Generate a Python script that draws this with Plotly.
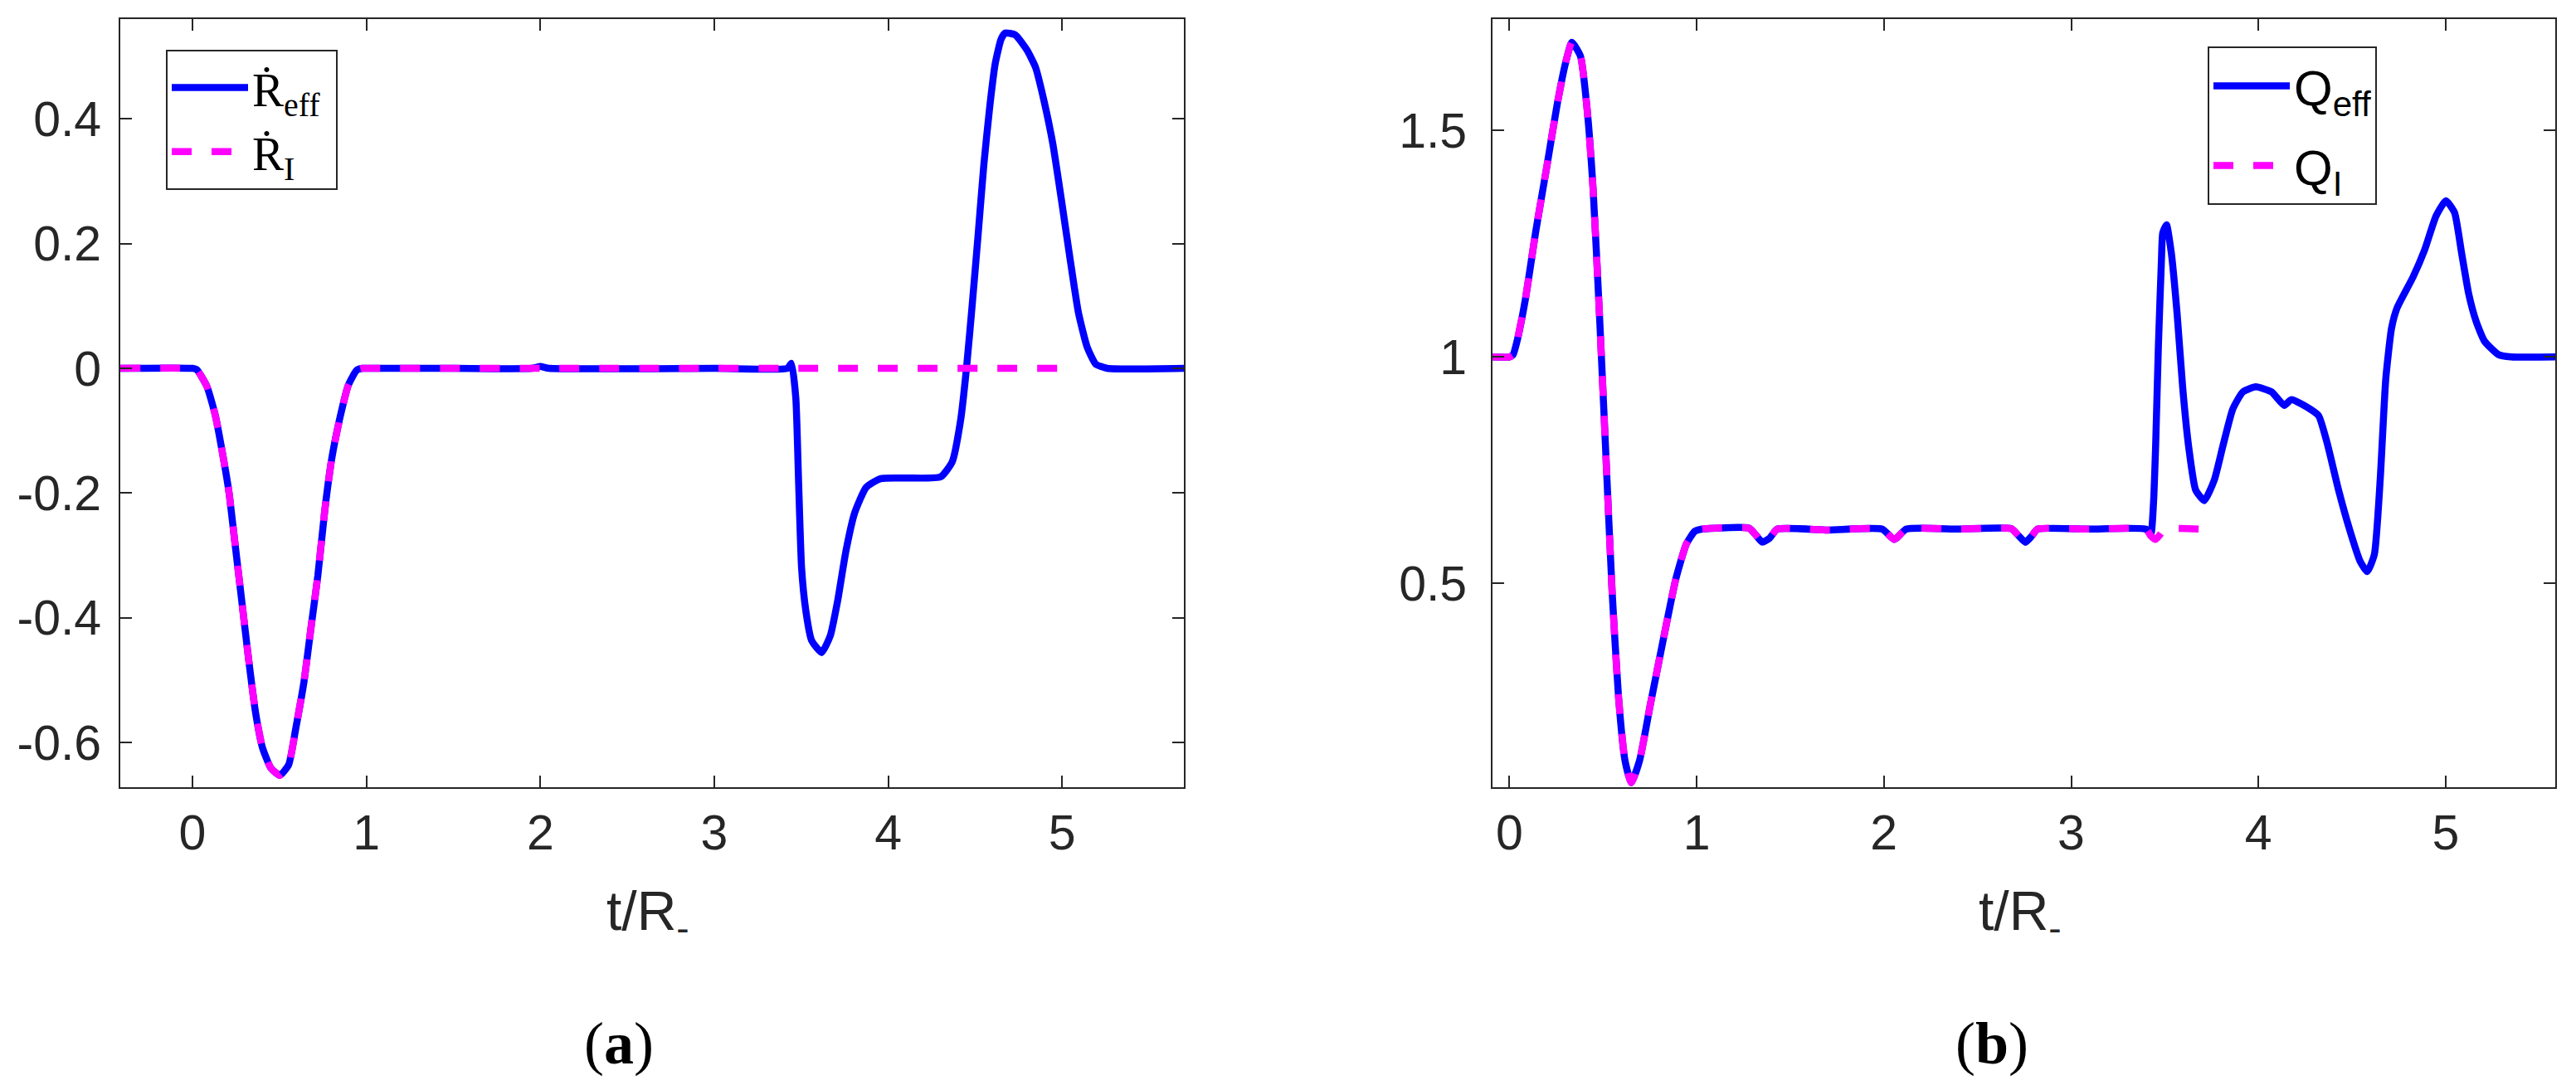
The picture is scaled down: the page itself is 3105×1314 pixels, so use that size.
import plotly.graph_objects as go

# ---------------- data ----------------
# panel (a): dR/dt
t_reff = [-0.415, 0.0, 0.025, 0.083, 0.131, 0.170, 0.210, 0.242, 0.282, 0.322, 0.362,
          0.402, 0.450, 0.502, 0.553, 0.593, 0.641, 0.681, 0.721, 0.761, 0.800, 0.848,
          0.896, 0.944, 0.976, 1.0, 1.5, 1.95, 2.0, 2.05, 3.0, 3.42, 3.444, 3.469,
          3.485, 3.502, 3.526, 3.559, 3.617, 3.667, 3.708, 3.757, 3.807, 3.873, 3.955,
          4.104, 4.302, 4.368, 4.417, 4.450, 4.483, 4.516, 4.550, 4.582, 4.616, 4.649,
          4.673, 4.731, 4.797, 4.847, 4.896, 4.946, 4.995, 5.045, 5.094, 5.144, 5.193,
          5.259, 5.70]
v_reff = [0.0, 0.0, -0.002, -0.029, -0.075, -0.132, -0.199, -0.275, -0.370, -0.465, -0.551,
          -0.608, -0.641, -0.653, -0.636, -0.579, -0.503, -0.417, -0.332, -0.227, -0.146, -0.079,
          -0.027, -0.003, 0.0, 0.0, 0.0, 0.0, 0.003, 0.0, 0.0, 0.0, 0.008, -0.048,
          -0.184, -0.320, -0.388, -0.436, -0.456, -0.429, -0.375, -0.293, -0.232, -0.191, -0.177,
          -0.176, -0.174, -0.150, -0.082, 0.0, 0.102, 0.211, 0.327, 0.415, 0.490, 0.528,
          0.538, 0.535, 0.511, 0.483, 0.429, 0.361, 0.272, 0.177, 0.089, 0.034, 0.007,
          0.0, 0.0]

t_ri = [-0.415, 0.0, 0.025, 0.083, 0.131, 0.170, 0.210, 0.242, 0.282, 0.322, 0.362,
        0.402, 0.450, 0.502, 0.553, 0.593, 0.641, 0.681, 0.721, 0.761, 0.800, 0.848,
        0.896, 0.944, 0.976, 1.0, 1.5, 2.0, 3.0, 3.42, 4.99]
v_ri = [0.0, 0.0, -0.002, -0.029, -0.075, -0.132, -0.199, -0.275, -0.370, -0.465, -0.551,
        -0.608, -0.641, -0.653, -0.636, -0.579, -0.503, -0.417, -0.332, -0.227, -0.146, -0.079,
        -0.027, -0.003, 0.0, 0.0, 0.0, 0.0, 0.0, 0.0, 0.0]

# panel (b): Q
t_qeff = [-0.09, 0.0, 0.02, 0.04, 0.085, 0.142, 0.199, 0.255, 0.300, 0.334, 0.380, 0.413,
          0.447, 0.481, 0.515, 0.549, 0.583, 0.617, 0.651, 0.696, 0.753, 0.820, 0.889, 0.945,
          0.990, 1.03, 1.28, 1.32, 1.351, 1.39, 1.43, 1.70, 1.99, 2.056, 2.12, 2.40, 2.68,
          2.72, 2.756, 2.79, 2.82, 3.10, 3.40, 3.425, 3.44, 3.451, 3.466, 3.482, 3.489, 3.509,
          3.535, 3.566, 3.596, 3.627, 3.665, 3.711, 3.764, 3.810, 3.863, 3.917, 3.986, 4.070,
          4.138, 4.176, 4.276, 4.322, 4.367, 4.428, 4.489, 4.543, 4.581, 4.619, 4.650, 4.680,
          4.711, 4.741, 4.826, 4.887, 4.948, 5.001, 5.047, 5.085, 5.123, 5.162, 5.207, 5.283,
          5.35, 5.585]
v_qeff = [1.0, 1.0, 1.005, 1.033, 1.126, 1.280, 1.418, 1.557, 1.649, 1.695, 1.664, 1.557,
          1.372, 1.095, 0.788, 0.480, 0.249, 0.110, 0.060, 0.110, 0.233, 0.372, 0.510, 0.587,
          0.615, 0.620, 0.622, 0.605, 0.591, 0.600, 0.620, 0.618, 0.620, 0.597, 0.620, 0.620, 0.621,
          0.605, 0.591, 0.605, 0.620, 0.620, 0.620, 0.608, 0.680, 0.803, 1.027, 1.214, 1.274, 1.292,
          1.229, 1.094, 0.930, 0.803, 0.706, 0.683, 0.728, 0.803, 0.885, 0.923, 0.934, 0.923,
          0.893, 0.906, 0.885, 0.870, 0.810, 0.706, 0.616, 0.549, 0.526, 0.564, 0.728, 0.952,
          1.064, 1.109, 1.177, 1.236, 1.311, 1.345, 1.319, 1.229, 1.139, 1.079, 1.035, 1.005,
          1.0, 1.0]

t_qi = [-0.09, 0.0, 0.02, 0.04, 0.085, 0.142, 0.199, 0.255, 0.300, 0.334, 0.380, 0.413,
        0.447, 0.481, 0.515, 0.549, 0.583, 0.617, 0.651, 0.696, 0.753, 0.820, 0.889, 0.945,
        0.990, 1.03, 1.28, 1.32, 1.351, 1.39, 1.43, 1.70, 1.99, 2.056, 2.12, 2.40, 2.68,
        2.72, 2.756, 2.79, 2.82, 3.10, 3.40, 3.425, 3.451, 3.475, 3.50, 3.69]
v_qi = [1.0, 1.0, 1.005, 1.033, 1.126, 1.280, 1.418, 1.557, 1.649, 1.695, 1.664, 1.557,
        1.372, 1.095, 0.788, 0.480, 0.249, 0.110, 0.060, 0.110, 0.233, 0.372, 0.510, 0.587,
        0.615, 0.620, 0.622, 0.605, 0.591, 0.600, 0.620, 0.618, 0.620, 0.597, 0.620, 0.620, 0.621,
        0.605, 0.591, 0.605, 0.620, 0.620, 0.620, 0.605, 0.597, 0.608, 0.620, 0.620]

x_ticks = [0, 1, 2, 3, 4, 5]
x_ticklabels = ["0", "1", "2", "3", "4", "5"]
ya_ticks = [-0.6, -0.4, -0.2, 0, 0.2, 0.4]
ya_ticklabels = ["-0.6", "-0.4", "-0.2", "0", "0.2", "0.4"]
yb_ticks = [0.5, 1, 1.5]
yb_ticklabels = ["0.5", "1", "1.5"]

names_a = ["Ṙ<sub>eff</sub>\u00a0", "Ṙ<sub>I</sub>"]
names_b = ["Q<sub>eff</sub>", "Q<sub>I</sub>"]
xtitle = "t/R<sub>-</sub>"
panel_labels = ["(<b>a</b>)", "(<b>b</b>)"]

# ---------------- figure ----------------
W, H = 3105, 1314
BLUE = "#0000FF"
MAG = "#FF00FF"
AX = "#262626"
LW = 8.5
DASH = "24px,24px"

fig = go.Figure()
fig.add_trace(go.Scatter(x=t_reff, y=v_reff, mode="lines", name=names_a[0],
                         line=dict(color=BLUE, width=LW, shape="spline", smoothing=0.5),
                         xaxis="x", yaxis="y", legend="legend", legendgroup="a1"))
fig.add_trace(go.Scatter(x=t_ri, y=v_ri, mode="lines", name=names_a[1],
                         line=dict(color=MAG, width=LW, dash=DASH, shape="spline", smoothing=0.5),
                         xaxis="x", yaxis="y", legend="legend", legendgroup="a2"))
fig.add_trace(go.Scatter(x=t_qeff, y=v_qeff, mode="lines", name=names_b[0],
                         line=dict(color=BLUE, width=LW, shape="spline", smoothing=0.5),
                         xaxis="x2", yaxis="y2", legend="legend2", legendgroup="b1"))
fig.add_trace(go.Scatter(x=t_qi, y=v_qi, mode="lines", name=names_b[1],
                         line=dict(color=MAG, width=LW, dash=DASH, shape="spline", smoothing=0.5),
                         xaxis="x2", yaxis="y2", legend="legend2", legendgroup="b2"))

tickfont = dict(family="Liberation Sans", size=59, color=AX)
common = dict(showline=True, linewidth=2, linecolor=AX, mirror="ticks", ticks="inside",
              ticklen=14, tickwidth=2, tickcolor=AX, showgrid=False, zeroline=False,
              tickfont=tickfont)

ydom = [1 - 949 / H, 1 - 22.5 / H]
fig.update_layout(
    width=W, height=H, autosize=False,
    margin=dict(l=0, r=0, t=0, b=0),
    paper_bgcolor="white", plot_bgcolor="white",
    xaxis=dict(domain=[145 / W, 1427 / W], range=[-0.415, 5.70], tickvals=x_ticks,
               ticktext=x_ticklabels, anchor="y", ticklabelstandoff=2, **common),
    yaxis=dict(domain=ydom, range=[-0.672, 0.561], tickvals=ya_ticks,
               ticktext=ya_ticklabels, anchor="x", ticklabelstandoff=9, **common),
    xaxis2=dict(domain=[1799 / W, 3080 / W], range=[-0.09, 5.585], tickvals=x_ticks,
                ticktext=x_ticklabels, anchor="y2", ticklabelstandoff=2, **common),
    yaxis2=dict(domain=ydom, range=[0.05, 1.747], tickvals=yb_ticks,
                ticktext=yb_ticklabels, anchor="x2", ticklabelstandoff=17, **common),
    legend=dict(x=200 / W, y=1 - 60 / H, xanchor="left", yanchor="top",
                font=dict(family="Liberation Serif", size=57, color="black"),
                bgcolor="white", bordercolor=AX, borderwidth=2, itemwidth=92,
                traceorder="normal"),
    legend2=dict(x=2661 / W, y=1 - 56 / H, xanchor="left", yanchor="top",
                 font=dict(family="Liberation Sans", size=60, color="black"),
                 bgcolor="white", bordercolor=AX, borderwidth=2, itemwidth=92,
                 traceorder="grouped", tracegroupgap=15),
    showlegend=True,
)

annots = []
for cx in (781, 2435):
    annots.append(dict(text=xtitle, x=cx / W, y=1 - 1103 / H, xref="paper", yref="paper",
                       xanchor="center", yanchor="middle", showarrow=False,
                       font=dict(family="Liberation Sans", size=66, color=AX)))
for cx, lab in zip((746, 2401), panel_labels):
    annots.append(dict(text=lab, x=cx / W, y=1 - 1258 / H, xref="paper", yref="paper",
                       xanchor="center", yanchor="middle", showarrow=False,
                       font=dict(family="Liberation Serif", size=72, color="black")))
fig.update_layout(annotations=annots)

fig.write_html("out.html", config={"displayModeBar": False},
               post_script="document.body.style.margin='0';")
